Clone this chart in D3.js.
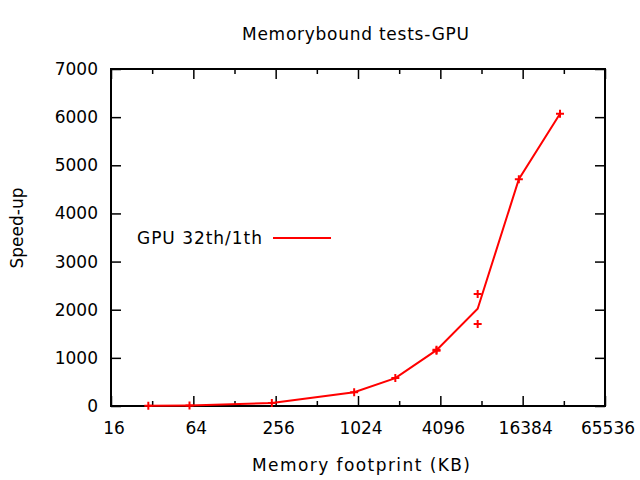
<!DOCTYPE html>
<html><head><meta charset="utf-8">
<script src="https://cdn.jsdelivr.net/npm/d3@7"></script>
<style>
body{margin:0;background:#fff;}
svg{display:block;font-family:"DejaVu Sans",sans-serif;}
</style></head>
<body><svg id="c" width="640" height="480"></svg>
<script>
// Data
const footprintKB   = [30, 60, 240, 960, 1920, 3840, 7680, 15360, 30720];
const speedupMean   = [3, 12, 62, 285, 580, 1160, 2020, 4710, 6070];
const pointFootprint = [30, 60, 240, 960, 1920, 3840, 3840, 7680, 7680, 15360, 30720];
const pointSpeedup   = [3, 12, 62, 285, 580, 1150, 1170, 2325, 1705, 4710, 6070];
const xMajorTicks = [16, 64, 256, 1024, 4096, 16384, 65536];
const xMinorTicks = [32, 128, 512, 2048, 8192, 32768];
const yTicks = [0, 1000, 2000, 3000, 4000, 5000, 6000, 7000];
const seriesName = "GPU 32th/1th";

const L = 111, R = 605, T = 69, B = 406;
const svg = d3.select("#c");
const x = d3.scaleLog().base(2).domain([16, 65536]).range([L, R]);
const y = d3.scaleLinear().domain([0, 7000]).range([B, T]);
const fs = 17;

function styleAxis(g){
  g.select(".domain").remove();
  g.selectAll(".tick line").attr("stroke", "#000").attr("stroke-width", 1.5);
  g.selectAll("text").attr("font-size", fs).attr("font-family", "DejaVu Sans").attr("fill", "#000");
}

// bottom axis
svg.append("g").attr("transform", `translate(0,${B})`)
  .call(d3.axisBottom(x).tickValues(xMajorTicks).tickSize(-10).tickPadding(16).tickFormat(d3.format("d")))
  .call(styleAxis)
  .call(g => g.selectAll("text").attr("dx", 2.5));
svg.append("g").attr("transform", `translate(0,${B})`)
  .call(d3.axisBottom(x).tickValues(xMinorTicks).tickSize(-5).tickFormat(""))
  .call(styleAxis);
// top mirror
svg.append("g").attr("transform", `translate(0,${T})`)
  .call(d3.axisTop(x).tickValues(xMajorTicks).tickSize(-10).tickFormat(""))
  .call(styleAxis);
svg.append("g").attr("transform", `translate(0,${T})`)
  .call(d3.axisTop(x).tickValues(xMinorTicks).tickSize(-5).tickFormat(""))
  .call(styleAxis);
// left axis
svg.append("g").attr("transform", `translate(${L},0)`)
  .call(d3.axisLeft(y).tickValues(yTicks).tickSize(-10).tickPadding(13).tickFormat(d3.format("d")))
  .call(styleAxis);
// right mirror
svg.append("g").attr("transform", `translate(${R},0)`)
  .call(d3.axisRight(y).tickValues(yTicks).tickSize(-10).tickFormat(""))
  .call(styleAxis);

// frame
svg.append("rect").attr("x", L).attr("y", T).attr("width", R - L).attr("height", B - T)
  .attr("fill", "none").attr("stroke", "#000").attr("stroke-width", 2);

// line
const lineData = footprintKB.map((d, i) => [d, speedupMean[i]]);
svg.append("path").datum(lineData)
  .attr("fill", "none").attr("stroke", "#ff0000").attr("stroke-width", 2)
  .attr("d", d3.line().x(d => x(d[0])).y(d => y(d[1])));

// points (plus markers)
const pts = pointFootprint.map((d, i) => [d, pointSpeedup[i]]);
const s = 4;
svg.append("g").selectAll("path").data(pts).join("path")
  .attr("fill", "none").attr("stroke", "#ff0000").attr("stroke-width", 2)
  .attr("d", d => {
    const cx = x(d[0]), cy = y(d[1]);
    return `M${cx - s},${cy}H${cx + s}M${cx},${cy - s}V${cy + s}`;
  });

// legend
svg.append("text").attr("x", 262).attr("y", 244).attr("text-anchor", "end")
  .attr("font-size", fs).attr("textLength", 125).attr("lengthAdjust", "spacing")
  .text(seriesName);
svg.append("line").attr("x1", 273).attr("x2", 331).attr("y1", 238).attr("y2", 238)
  .attr("stroke", "#ff0000").attr("stroke-width", 2);

// title & labels
svg.append("text").attr("x", 242).attr("y", 40).attr("font-size", fs)
  .attr("textLength", 227).attr("lengthAdjust", "spacing").text("Memorybound tests-GPU");
svg.append("text").attr("x", 252).attr("y", 471).attr("font-size", fs)
  .attr("textLength", 218).attr("lengthAdjust", "spacing").text("Memory footprint (KB)");
svg.append("text").attr("transform", "translate(23,228) rotate(-90)")
  .attr("text-anchor", "middle").attr("font-size", fs).text("Speed-up");
</script></body></html>
